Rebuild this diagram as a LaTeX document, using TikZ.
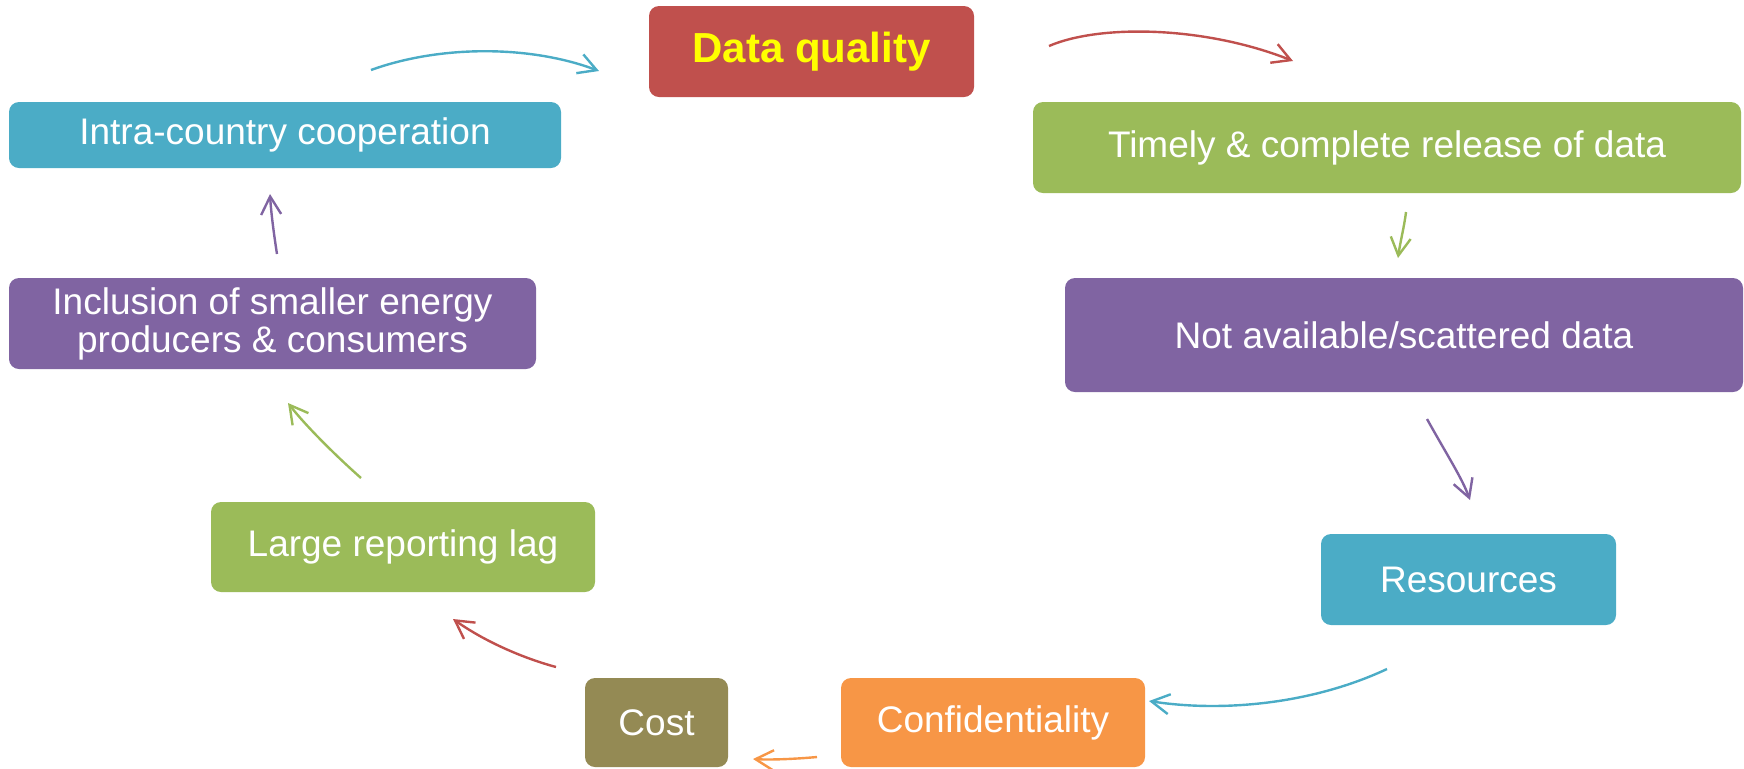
\documentclass[tikz,border=0pt]{standalone}
\usepackage{fontspec}
\setmainfont{Liberation Sans}
\usetikzlibrary{arrows.meta}
\definecolor{cRed}{HTML}{C0504D}
\definecolor{cGreen}{HTML}{9BBB59}
\definecolor{cPurple}{HTML}{8064A2}
\definecolor{cCyan}{HTML}{4BACC6}
\definecolor{cOrange}{HTML}{F79646}
\definecolor{cOlive}{HTML}{948A54}
\definecolor{cYellow}{HTML}{FFFF00}
\tikzset{
  box/.style={rectangle, rounded corners=5pt, inner sep=0pt, text=white,
    font=\fontsize{18.5pt}{19pt}\selectfont, align=center},
  conn/.style={line width=1.2pt, -{Straight Barb[length=9pt,width=10pt]}},
}
\begin{document}
\begin{tikzpicture}[x=0.5pt,y=-0.5pt]
\useasboundingbox (0,0) rectangle (1744,768);
% boxes
\node[box, fill=cRed, minimum width=162.5pt, minimum height=45.5pt, text=cYellow,
  font=\fontsize{21pt}{24pt}\selectfont\bfseries] (dq) at (811.5,51.5) {Data quality};
\node[box, fill=cGreen, minimum width=354pt, minimum height=45.5pt] (timely) at (1387,147.5) {Timely \& complete release of data};
\node[box, fill=cPurple, minimum width=339pt, minimum height=57pt] (navail) at (1404,335) {Not available/scattered data};
\node[box, fill=cCyan, minimum width=147.5pt, minimum height=45.5pt] (res) at (1468.5,579.5) {Resources};
\node[box, fill=cOrange, minimum width=152pt, minimum height=44.5pt] (conf) at (993,722.5) {Confidentiality};
\node[box, fill=cOlive, minimum width=71.5pt, minimum height=44.5pt] (cost) at (656.5,722.5) {Cost};
\node[box, fill=cGreen, minimum width=192pt, minimum height=45pt] (lag) at (403,547) {Large reporting lag};
\node[box, fill=cPurple, minimum width=263.5pt, minimum height=45.5pt] (incl) at (272.5,323.5) {Inclusion of smaller energy\\producers \& consumers};
\node[box, fill=cCyan, minimum width=276pt, minimum height=33pt] (intra) at (285,135) {Intra-country cooperation};
% connector end points
\coordinate (a1s) at (371,70);   \coordinate (a1e) at (599,71);
\coordinate (a2s) at (1049,46);  \coordinate (a2e) at (1293,61);
\coordinate (a3s) at (1406,212); \coordinate (a3e) at (1398,258);
\coordinate (a4s) at (1427,419); \coordinate (a4e) at (1470,500);
\coordinate (a5s) at (1387,669); \coordinate (a5e) at (1149,701);
\coordinate (a6s) at (817,757);  \coordinate (a6e) at (753,759);
\coordinate (a7s) at (556,667);  \coordinate (a7e) at (453,619);
\coordinate (a8s) at (361,478);  \coordinate (a8e) at (288,403);
\coordinate (a9s) at (277,254);  \coordinate (a9e) at (270,194);
% connectors
\draw[conn, cCyan] (a1s) .. controls (440,45) and (530,45) .. (a1e);
\draw[conn, cRed] (a2s) .. controls (1100,24) and (1205,26) .. (a2e);
\draw[conn, cGreen] (a3s) .. controls (1404,228) and (1400,243) .. (a3e);
\draw[conn, cPurple] (a4s) .. controls (1447,455) and (1462,478) .. (a4e);
\draw[conn, cCyan] (a5s) .. controls (1310,705) and (1220,712) .. (a5e);
\draw[conn, cOrange] (a6s) .. controls (795,759) and (770,760) .. (a6e);
\draw[conn, cRed] (a7s) .. controls (530,660) and (490,645) .. (a7e);
\draw[conn, cGreen] (a8s) .. controls (335,455) and (305,425) .. (a8e);
\draw[conn, cPurple] (a9s) .. controls (274,235) and (271,212) .. (a9e);
\end{tikzpicture}
\end{document}
